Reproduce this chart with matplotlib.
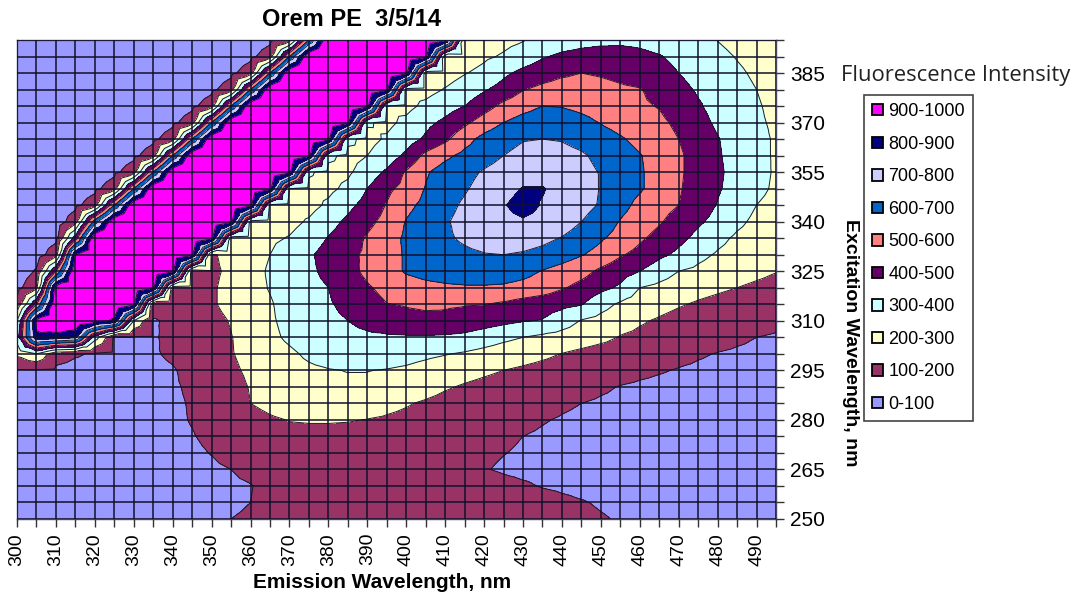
import numpy as np
import matplotlib
matplotlib.use('Agg')
import matplotlib.pyplot as plt
import matplotlib.tri as mtri
from matplotlib.patches import Patch

emission = list(range(300, 500, 5))
excitation = list(range(250, 400, 5))

# intensity, one row per excitation wavelength (300..495 nm emission)
row_250 = [20,20,25,25,30,30,35,40,50,60,80,100,112,120,128,135,140,145,150,155,158,160,160,158,155,150,142,135,125,115,105,95,88,82,78,74,70,66,62,58]
row_255 = [20,22,25,25,30,32,38,45,52,62,72,85,100,125,135,145,150,155,160,165,168,170,168,165,160,150,140,130,115,104,94,86,80,76,72,68,65,62,60,58]
row_260 = [22,24,26,28,32,36,42,50,58,68,78,88,97,118,130,142,150,158,165,170,175,175,170,160,145,125,110,96,88,82,78,74,70,68,66,64,62,60,58,56]
row_265 = [24,26,28,30,34,40,46,54,64,76,90,100,120,135,145,152,156,158,160,160,158,150,140,125,105,90,82,78,74,72,70,68,66,64,62,60,60,58,58,56]
row_270 = [26,28,30,34,38,44,52,62,76,90,102,120,135,150,158,160,162,163,163,160,155,148,140,128,115,102,92,86,82,78,75,72,70,68,66,64,62,60,60,58]
row_275 = [28,30,34,38,42,50,58,70,85,97,112,130,148,165,175,178,178,176,172,168,162,155,148,138,125,112,100,94,88,84,80,77,74,72,70,68,66,64,62,60]
row_280 = [30,32,36,40,46,54,64,76,90,103,118,140,165,188,203,206,206,204,198,190,182,170,158,146,134,122,112,103,96,90,85,82,78,75,73,71,68,66,64,62]
row_285 = [35,38,42,46,52,60,70,82,92,104,125,160,200,225,245,258,262,258,240,222,206,190,175,162,150,138,128,118,108,100,94,90,86,82,78,75,72,70,68,65]
row_290 = [50,50,50,52,58,66,74,85,94,108,135,170,205,235,258,275,285,288,285,270,250,232,208,192,178,165,150,138,128,118,107,98,92,88,84,80,77,74,72,70]
row_295 = [92,95,90,85,82,80,84,88,96,115,150,185,215,245,268,285,296,302,302,296,285,265,245,230,215,200,185,170,155,142,132,122,112,104,97,92,88,84,80,76]
row_300 = [220,300,125,105,95,85,88,95,108,125,160,195,225,260,285,315,335,345,350,345,335,320,305,290,270,255,240,220,198,178,160,148,135,125,115,105,98,92,88,84]
row_305 = [350,880,860,820,350,90,95,94,115,140,170,197,235,280,315,345,362,372,380,385,388,388,385,375,350,320,300,280,265,248,225,195,180,165,150,135,122,110,100,95]
row_310 = [300,930,1000,1000,950,880,300,95,110,140,175,205,250,288,325,355,378,400,430,460,478,485,480,465,445,425,405,395,345,295,270,240,210,190,170,155,140,128,120,112]
row_315 = [120,500,1000,1000,1000,1000,920,130,120,150,190,225,265,292,335,365,390,425,465,498,505,510,510,505,502,485,460,440,425,405,335,285,255,230,208,190,175,160,150,140]
row_320 = [70,180,950,1000,1000,1000,1000,920,170,160,190,225,270,305,340,372,400,450,490,525,555,575,585,590,590,585,570,550,510,470,425,385,300,275,250,230,215,200,185,172]
row_325 = [45,110,500,1000,1000,1000,1000,1000,920,170,185,215,270,310,345,380,425,470,520,560,610,630,640,650,655,650,630,595,565,535,480,440,400,350,300,280,255,235,220,203]
row_330 = [40,50,160,900,1000,1000,1000,1000,1000,920,190,225,265,300,345,385,440,480,515,565,610,640,660,680,695,700,690,670,640,605,570,510,470,420,380,325,290,265,245,230]
row_335 = [35,40,75,450,1000,1000,1000,1000,1000,1000,920,270,260,285,305,345,405,450,510,560,615,650,685,715,740,750,745,725,695,650,610,570,515,470,425,375,325,285,260,240]
row_340 = [30,35,40,160,650,1000,1000,1000,1000,1000,1000,920,280,265,275,310,365,420,475,530,605,650,690,730,760,780,790,780,755,700,650,595,550,510,460,415,370,320,280,255]
row_345 = [30,30,35,75,160,600,1000,1000,1000,1000,1000,1000,920,290,270,270,315,375,435,505,575,625,670,715,760,795,830,795,770,735,690,630,575,535,500,450,395,345,300,270]
row_350 = [30,30,30,35,75,160,600,1000,1000,1000,1000,1000,1000,920,300,280,280,320,400,480,530,605,650,690,735,770,805,805,775,745,695,650,610,565,510,455,410,365,325,285]
row_355 = [25,25,25,30,35,75,160,600,1000,1000,1000,1000,1000,1000,920,310,275,285,345,415,510,590,640,670,710,740,760,765,750,725,695,650,610,565,515,460,415,370,330,290]
row_360 = [25,25,25,25,25,35,75,160,600,1000,1000,1000,1000,1000,1000,920,320,275,300,345,420,525,580,625,660,700,725,735,725,710,680,640,605,565,515,460,410,365,325,290]
row_365 = [25,25,25,25,25,25,35,75,160,600,1000,1000,1000,1000,1000,1000,920,320,275,310,355,415,480,565,630,670,695,700,695,675,645,610,575,540,500,450,405,360,325,290]
row_370 = [25,25,25,25,25,25,25,35,75,160,600,1000,1000,1000,1000,1000,1000,920,310,280,320,375,420,480,545,600,640,660,655,630,595,565,535,520,480,430,385,340,315,285]
row_375 = [25,25,25,25,25,25,25,25,35,75,160,600,1000,1000,1000,1000,1000,1000,920,300,275,320,360,400,460,525,565,600,595,575,555,530,515,495,450,410,370,340,310,275]
row_380 = [25,25,25,25,25,25,25,25,25,35,75,160,600,1000,1000,1000,1000,1000,1000,920,280,270,305,345,390,435,495,525,540,540,530,515,505,465,425,390,360,330,300,265]
row_385 = [25,25,25,25,25,25,25,25,25,25,35,75,160,600,1000,1000,1000,1000,1000,1000,920,270,260,295,325,380,425,455,485,500,490,475,455,430,400,370,340,315,285,255]
row_390 = [25,25,25,25,25,25,25,25,25,25,25,35,75,160,600,1000,1000,1000,1000,1000,1000,920,250,255,285,310,345,390,420,435,435,430,420,405,380,350,325,295,270,245]
row_395 = [25,25,25,25,25,25,25,25,25,25,25,25,35,75,160,600,1000,1000,1000,1000,1000,1000,920,230,250,275,295,320,345,365,380,385,380,365,350,330,298,270,250,230]

rows = [row_250, row_255, row_260, row_265, row_270, row_275, row_280, row_285, row_290, row_295,
        row_300, row_305, row_310, row_315, row_320, row_325, row_330, row_335, row_340, row_345,
        row_350, row_355, row_360, row_365, row_370, row_375, row_380, row_385, row_390, row_395]

bands = ['0-100', '100-200', '200-300', '300-400', '400-500', '500-600', '600-700', '700-800', '800-900', '900-1000']
band_colors = ['#9999FF', '#993366', '#FFFFCC', '#CCFFFF', '#660066', '#FF8080', '#0066CC', '#CCCCFF', '#000080', '#FF00FF']
levels = [0, 100, 200, 300, 400, 500, 600, 700, 800, 900, 1001]

z = np.array(rows, dtype=float)
xg, yg = np.meshgrid(emission, excitation)
nr, nc = z.shape

# split every cell in 4 around its centre, that is what gives the stepped edges
xc = (xg[:-1, :-1] + xg[1:, 1:]) / 2
yc = (yg[:-1, :-1] + yg[1:, 1:]) / 2
zc = (z[:-1, :-1] + z[1:, :-1] + z[:-1, 1:] + z[1:, 1:]) / 4
px = np.concatenate([xg.ravel(), xc.ravel()])
py = np.concatenate([yg.ravel(), yc.ravel()])
pz = np.concatenate([z.ravel(), zc.ravel()])
tris = []
for r in range(nr - 1):
    for c in range(nc - 1):
        a = r * nc + c
        b = a + 1
        d = (r + 1) * nc + c
        e = d + 1
        m = nr * nc + r * (nc - 1) + c
        tris += [[a, b, m], [b, e, m], [e, d, m], [d, a, m]]
tri = mtri.Triangulation(px, py, tris)

plt.rcParams['font.family'] = ['Liberation Sans', 'DejaVu Sans']
fig = plt.figure(figsize=(10.78, 5.97), dpi=100)
ax = fig.add_axes([17 / 1078, 1 - 519 / 597, 759 / 1078, 479 / 597])
ax.tricontourf(tri, pz, levels=levels, colors=band_colors)
ax.tricontour(tri, pz, levels=levels[1:-1], colors='#1a1a2a', linewidths=0.7)

ax.set_xlim(300, 495)
ax.set_ylim(250, 395)
ax.set_xticks(emission)
ax.set_xticklabels([str(v) if v % 10 == 0 else '' for v in emission], rotation=90, fontsize=14)
ax.set_yticks(excitation)
ax.set_yticklabels([str(v) if (v - 250) % 15 == 0 else '' for v in excitation], fontsize=15)
ax.yaxis.tick_right()
ax.tick_params(axis='both', length=6, width=1, color='#333333', pad=4)
ax.grid(True, color='#10102a', lw=1.1)
ax.set_axisbelow(False)
for s in ax.spines.values():
    s.set_color('#444466')
    s.set_linewidth(1)

fig.text(351 / 1078, 1 - 19 / 597, 'Orem PE  3/5/14', ha='center', va='center', fontsize=17, fontweight='bold')
fig.text(382 / 1078, 1 - 582 / 597, 'Emission Wavelength, nm', ha='center', va='center', fontsize=15, fontweight='bold')
fig.text(850 / 1078, 1 - 343 / 597, 'Excitation Wavelength, nm', ha='center', va='center', rotation=270, fontsize=14, fontweight='bold')
fig.text(956 / 1078, 1 - 75 / 597, 'Fluorescence Intensity', ha='center', va='center', fontsize=15.8, family='Open Sans', color='#222222')

handles = [Patch(facecolor=c, edgecolor='black', lw=1.3, label=b) for c, b in zip(band_colors, bands)][::-1]
leg = fig.legend(handles=handles, loc='upper left', bbox_to_anchor=(864 / 1078, 1 - 95 / 597), borderaxespad=0,
                 fontsize=13, handlelength=0.6, handleheight=0.6, handletextpad=0.3, labelspacing=0.86,
                 fancybox=False, edgecolor='#444444', framealpha=1, borderpad=0.45)
leg.get_frame().set_linewidth(1.2)

fig.savefig('out.png', dpi=100)
